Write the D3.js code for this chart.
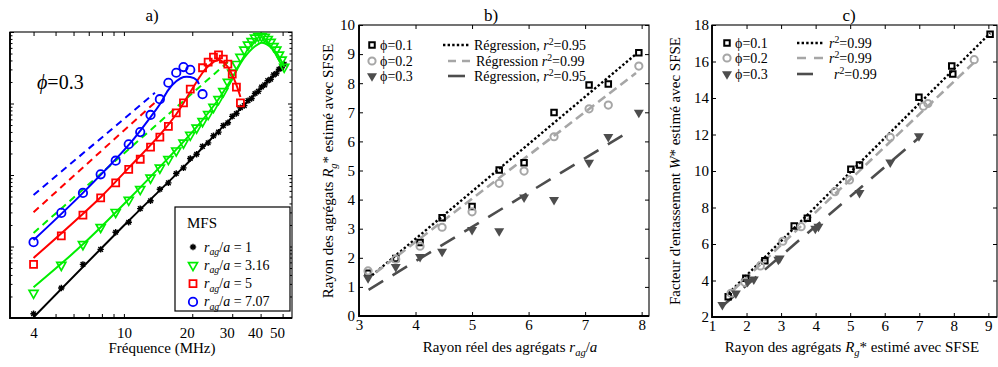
<!DOCTYPE html>
<html>
<head>
<meta charset="utf-8">
<script src="https://cdn.jsdelivr.net/npm/d3@7"></script>
</head>
<body style="margin:0;background:#fff">
<svg id="fig" width="998" height="367" style="font-family:'Liberation Serif'"></svg>
<script>
// ---------------- Panel a: spectra vs frequency (phi = 0.3), values in dB ----------------
const freqMHz = [4.0, 5.3, 6.6, 7.9, 9.2, 10.5, 11.8, 13.1, 14.4, 15.7, 17.0, 18.3, 19.6, 20.9, 22.2,
  23.5, 24.8, 26.1, 27.4, 28.7, 30.0, 31.3, 32.6, 33.9, 35.2, 36.5, 37.8, 39.1, 40.4, 41.7, 43.0,
  44.3, 45.6, 46.9, 48.2, 49.5, 50.8];
const bscRag1 = [-39.4, -35.8, -32.5, -30.4, -28.0, -26.6, -24.7, -23.6, -22.0, -21.1, -19.8, -19.0,
  -17.7, -17.1, -16.0, -15.5, -14.5, -14.0, -13.1, -12.7, -11.8, -11.4, -10.6, -10.3, -9.6, -9.3,
  -8.6, -8.3, -7.7, -7.4, -6.8, -6.6, -6.0, -5.8, -5.2, -5.0, -4.5];
const bscRag316 = [-36.5, -32.6, -29.7, -27.3, -25.2, -23.5, -22.0, -20.4, -19.0, -17.8, -16.6, -15.5,
  -14.4, -13.4, -12.5, -11.5, -10.5, -9.4, -8.3, -7.0, -5.7, -4.5, -3.5, -2.5, -1.8, -1.3, -0.8,
  -0.6, -0.6, -0.7, -1.0, -1.4, -2.0, -2.5, -3.2, -3.9, -4.9];
const freqRag5 = [4.0, 5.3, 6.6, 7.9, 9.2, 10.5, 11.8, 13.1, 14.4, 15.7, 17.0, 18.3, 19.6, 22.2, 23.5,
  24.8, 26.1, 27.4, 28.7, 30.0, 31.3, 32.6];
const bscRag5 = [-32.5, -28.5, -25.6, -23.2, -21.1, -19.2, -17.8, -16.1, -14.7, -13.2, -11.3, -9.9,
  -8.0, -5.0, -4.2, -3.5, -3.2, -3.8, -4.5, -5.9, -7.7, -9.9];
const freqRag707 = [4.0, 5.3, 6.6, 7.9, 9.2, 10.5, 11.8, 13.1, 14.4, 15.7, 17.0, 18.3, 19.6, 22.2];
const bscRag707 = [-29.4, -25.3, -22.5, -19.9, -18.0, -15.7, -14.0, -11.6, -9.4, -7.1, -5.7, -4.9,
  -5.3, -8.7];

// model curves (solid)
const modelFreq1 = [4, 10.5, 18.3, 30, 50.8];
const modelRag1 = [-39.9, -26.4, -18.9, -11.9, -4.6];
const modelFreq316 = [4, 6.6, 10.5, 15.7, 20.9, 26.1, 30, 33.9, 37.8, 40.4, 43, 46.9, 50.8];
const modelRag316 = [-35.7, -29.7, -23.4, -17.6, -13.3, -9.4, -6.4, -3.6, -2.0, -1.5, -1.8, -2.9, -4.9];
const modelFreq5 = [4, 7.9, 10.5, 14.4, 17, 19.6, 22.2, 23.5, 24.8, 26.1, 27.4, 28.7, 30, 31.3, 32.6];
const modelRag5 = [-31.6, -23.1, -19.0, -14.4, -11.5, -8.4, -5.7, -4.8, -4.2, -3.9, -4.2, -4.9, -6.0, -7.4, -9.1];
const modelFreq707 = [4, 6.6, 10.5, 13.1, 14.4, 15.7, 17, 18.3, 19.6, 20.9, 21.4];
const modelRag707 = [-29.1, -22.5, -15.8, -11.9, -10.1, -8.1, -6.9, -6.3, -6.3, -6.7, -7.3];

// low-frequency asymptotes (dashed)
const asymFreq316 = [4, 28.7];
const asymRag316 = [-28.1, -4.2];
const asymFreq5 = [4, 14.1];
const asymRag5 = [-25.2, -9.5];
const asymFreq707 = [4, 13.7];
const asymRag707 = [-22.8, -8.5];

const freqTicks = [4, 5, 6, 7, 8, 9, 10, 20, 30, 40, 50];
const freqTickLabels = [4, 10, 20, 30, 40, 50];
const dbDecades = [-40, -30, -20, -10, 0];

// ---------------- Panel b: estimated vs true aggregate radius ----------------
const ragTrue = [3.16, 3.65, 4.08, 4.47, 5.00, 5.48, 5.92, 6.45, 7.07, 7.41, 7.95];
const rgPhi01 = [1.47, 1.98, 2.53, 3.38, 3.76, 5.02, 5.27, 6.99, 7.94, 7.97, 9.05];
const rgPhi02 = [1.55, 1.95, 2.40, 3.05, 3.58, 4.56, 4.98, 6.16, 7.12, 7.25, 8.59];
const rgPhi03 = [1.30, 1.69, 2.03, 2.21, 2.96, 2.92, 4.08, 3.99, 5.27, 6.16, 6.99];
const regB01x = [3.17, 7.9], regB01y = [1.3, 9.0];
const regB02x = [3.3, 7.9], regB02y = [1.5, 8.35];
const regB03x = [3.17, 7.7], regB03y = [0.9, 6.25];
const bTicksX = [3, 4, 5, 6, 7, 8];
const bTicksY = [0, 1, 2, 3, 4, 5, 6, 7, 8, 9, 10];

// ---------------- Panel c: packing factor vs estimated radius ----------------
const wPhi01 = [3.11, 4.12, 5.08, 6.99, 7.41, 10.09, 10.33, 14.04, 15.75, 15.32, 17.5];
const wPhi02 = [3.30, 3.90, 4.80, 6.15, 6.95, 8.87, 9.51, 11.85, 13.55, 13.70, 16.10];
const wPhi03 = [2.66, 3.30, 3.93, 4.07, 5.22, 5.15, 6.95, 6.85, 8.81, 10.48, 11.92];
const regC01x = [1.48, 9.05], regC01y = [3.3, 17.55];
const regC02x = [1.62, 8.61], regC02y = [3.48, 15.99];
const regC03x = [1.3, 6.97], regC03y = [2.6, 11.79];
const cTicksX = [1, 2, 3, 4, 5, 6, 7, 8, 9];
const cTicksY = [2, 4, 6, 8, 10, 12, 14, 16, 18];

// ---------------- helpers ----------------
const SERIF = "'Liberation Serif'";
const svg = d3.select('#fig');

function rich(g, x, y, parts, size, opts = {}) {
  const t = g.append('text').attr('font-size', size)
    .attr('font-family', 'Liberation Serif').style('font-family', SERIF)
    .attr('text-anchor', opts.anchor || 'start').attr('fill', '#000');
  if (opts.rotate) t.attr('transform', `translate(${x},${y}) rotate(-90)`);
  else t.attr('x', x).attr('y', y);
  let shift = 0;
  parts.forEach(p => {
    const target = p.sub ? size * 0.25 : p.sup ? -size * 0.33 : 0;
    const s = t.append('tspan').text(p.t).attr('dy', (target - shift).toFixed(2));
    if (p.sub || p.sup) s.attr('font-size', size * 0.7);
    if (p.i) s.attr('font-style', 'italic');
    shift = target;
  });
  return t;
}

function plain(g, x, y, str, size, anchor) {
  return g.append('text').attr('x', x).attr('y', y).attr('font-size', size)
    .attr('font-family', 'Liberation Serif').style('font-family', SERIF)
    .attr('text-anchor', anchor || 'start').text(str);
}

const shape = {
  square: s => `M${-s / 2},${-s / 2}h${s}v${s}h${-s}Z`,
  circle: r => `M${r},0A${r},${r} 0 1,1 ${-r},0A${r},${r} 0 1,1 ${r},0Z`,
  triDown: (w, h) => `M${-w / 2},${-h / 3}L${w / 2},${-h / 3}L0,${2 * h / 3}Z`,
  star: s => `M${-s},0H${s}M0,${-s}V${s}M${-s * 0.72},${-s * 0.72}L${s * 0.72},${s * 0.72}M${-s * 0.72},${s * 0.72}L${s * 0.72},${-s * 0.72}`
};

function markers(g, x, y, xs, ys, d, style) {
  g.append('g').selectAll('path').data(d3.zip(xs, ys)).join('path')
    .attr('transform', p => `translate(${x(p[0])},${y(p[1])})`)
    .attr('d', d)
    .attr('fill', style.fill || 'none')
    .attr('stroke', style.stroke || 'none')
    .attr('stroke-width', style.sw || 0);
}

function curve(g, x, y, xs, ys, style, smooth) {
  const line = d3.line().x(p => x(p[0])).y(p => y(p[1]));
  if (smooth) line.curve(d3.curveCatmullRom.alpha(0.5));
  g.append('path').datum(d3.zip(xs, ys)).attr('d', line)
    .attr('fill', 'none').attr('stroke', style.stroke)
    .attr('stroke-width', style.sw).attr('stroke-dasharray', style.dash || null)
    .attr('stroke-linecap', 'butt');
}

function styleAxis(sel, fs) {
  sel.call(s => s.select('.domain').remove())
    .attr('font-family', 'Liberation Serif').attr('font-size', fs)
    .call(s => s.selectAll('line').attr('stroke', '#000').attr('stroke-width', 1))
    .call(s => s.selectAll('text').attr('fill', '#000').style('font-family', SERIF));
}

function frame(g, x, y, o) {
  const [xl, xr] = x.range(), [yb, yt] = y.range();
  const bottom = g.append('g').attr('transform', `translate(0,${yb})`)
    .call(d3.axisBottom(x).tickValues(o.xt).tickSize(-o.len).tickPadding(o.xpad).tickFormat(o.xf))
    .call(s => styleAxis(s, o.fs));
  g.append('g').attr('transform', `translate(0,${yt})`)
    .call(d3.axisTop(x).tickValues(o.xt).tickSize(-o.len).tickFormat(''))
    .call(s => styleAxis(s, o.fs));
  g.append('g').attr('transform', `translate(${xl},0)`)
    .call(d3.axisLeft(y).tickValues(o.yt).tickSize(-o.len).tickPadding(o.ypad).tickFormat(o.yf))
    .call(s => styleAxis(s, o.fs));
  g.append('g').attr('transform', `translate(${xr},0)`)
    .call(d3.axisRight(y).tickValues(o.yt).tickSize(-o.len).tickFormat(''))
    .call(s => styleAxis(s, o.fs));
  g.append('rect').attr('x', xl).attr('y', yt).attr('width', xr - xl).attr('height', yb - yt)
    .attr('fill', 'none').attr('stroke', '#000').attr('stroke-width', 1.1);
  g.append('path').attr('d', `M${xl},${yt}V${yb}H${xr}`)
    .attr('fill', 'none').attr('stroke', '#000').attr('stroke-width', 1.8);
  return bottom;
}

// ================= Panel a =================
{
  const g = svg.append('g');
  const x = d3.scaleLog().domain([3.15, 55]).range([10, 292]);
  const y = d3.scaleLinear().domain([-40, 0]).range([318, 32]);

  const minorDb = [];
  dbDecades.slice(0, -1).forEach(d => { for (let k = 2; k <= 9; k++) minorDb.push(d + 10 * Math.log10(k)); });

  const bottom = frame(g, x, y, {
    xt: freqTicks, yt: dbDecades, len: 4, xpad: 9, ypad: 4, fs: 15,
    xf: d => freqTickLabels.includes(d) ? String(d) : '', yf: () => ''
  });
  bottom.selectAll('.tick text')
    .attr('text-anchor', d => d >= 20 ? 'end' : 'middle')
    .attr('dx', d => d >= 20 ? 2 : 0);
  g.append('g').attr('transform', 'translate(10,0)')
    .call(d3.axisLeft(y).tickValues(minorDb).tickSize(-2.5).tickFormat(''))
    .call(s => styleAxis(s, 15));
  g.append('g').attr('transform', 'translate(292,0)')
    .call(d3.axisRight(y).tickValues(minorDb).tickSize(-2.5).tickFormat(''))
    .call(s => styleAxis(s, 15));

  // dashed asymptotes
  curve(g, x, y, asymFreq707, asymRag707, { stroke: '#0000ff', sw: 2, dash: '7,5' });
  curve(g, x, y, asymFreq5, asymRag5, { stroke: '#ff0000', sw: 2, dash: '7,5' });
  curve(g, x, y, asymFreq316, asymRag316, { stroke: '#00ee00', sw: 2, dash: '7,5' });

  // r_ag/a = 1
  curve(g, x, y, modelFreq1, modelRag1, { stroke: '#000', sw: 2 }, true);
  markers(g, x, y, freqMHz, bscRag1, shape.star(3.2), { stroke: '#000', sw: 1.4 });
  // r_ag/a = 3.16
  curve(g, x, y, modelFreq316, modelRag316, { stroke: '#00ee00', sw: 2 }, true);
  markers(g, x, y, freqMHz, bscRag316, shape.triDown(9, 8), { stroke: '#00ee00', sw: 1.7 });
  // r_ag/a = 5
  curve(g, x, y, modelFreq5, modelRag5, { stroke: '#ff0000', sw: 2 }, true);
  markers(g, x, y, freqRag5, bscRag5, shape.square(7), { stroke: '#ff0000', sw: 1.8 });
  // r_ag/a = 7.07
  curve(g, x, y, modelFreq707, modelRag707, { stroke: '#0000ff', sw: 2 }, true);
  markers(g, x, y, freqRag707, bscRag707, shape.circle(4.2), { stroke: '#0000ff', sw: 1.8 });

  rich(g, 37, 89, [{ t: 'ϕ', i: 1 }, { t: '=0.3' }], 20);

  // legend
  const lg = g.append('g');
  lg.append('rect').attr('x', 175).attr('y', 207).attr('width', 115).attr('height', 104)
    .attr('fill', '#fff').attr('stroke', '#000').attr('stroke-width', 1.2);
  plain(lg, 187, 228, 'MFS', 15);
  const rows = [
    { v: '1', d: shape.star(3.2), st: { stroke: '#000', sw: 1.4 } },
    { v: '3.16', d: shape.triDown(9, 8), st: { stroke: '#00ee00', sw: 1.7 } },
    { v: '5', d: shape.square(7), st: { stroke: '#ff0000', sw: 1.8 } },
    { v: '7.07', d: shape.circle(4.2), st: { stroke: '#0000ff', sw: 1.8 } }
  ];
  rows.forEach((r, i) => {
    const cy = 247 + i * 18.3;
    lg.append('path').attr('transform', `translate(193,${cy})`).attr('d', r.d)
      .attr('fill', 'none').attr('stroke', r.st.stroke).attr('stroke-width', r.st.sw);
    rich(lg, 204, cy + 4.5, [{ t: 'r', i: 1 }, { t: 'ag', i: 1, sub: 1 }, { t: '/' }, { t: 'a', i: 1 }, { t: ' = ' + r.v }], 14);
  });

  plain(g, 152, 21, 'a)', 17, 'middle');
  plain(g, 162, 353, 'Fréquence (MHz)', 15, 'middle');
}

// ================= Panel b =================
{
  const g = svg.append('g');
  const x = d3.scaleLinear().domain([3, 8.13]).range([359, 649]);
  const y = d3.scaleLinear().domain([0, 10]).range([316, 25]);
  frame(g, x, y, { xt: bTicksX, yt: bTicksY, len: 4, xpad: 3, ypad: 4, fs: 15, xf: d3.format('d'), yf: d3.format('d') });

  curve(g, x, y, regB01x, regB01y, { stroke: '#000', sw: 2.4, dash: '2.4,2.2' });
  curve(g, x, y, regB02x, regB02y, { stroke: '#a6a6a6', sw: 2.6, dash: '9,5' });
  curve(g, x, y, regB03x, regB03y, { stroke: '#4d4d4d', sw: 2.6, dash: '17,11' });

  markers(g, x, y, ragTrue, rgPhi01, shape.square(5.5), { stroke: '#000', sw: 2 });
  markers(g, x, y, ragTrue, rgPhi02, shape.circle(3.6), { stroke: '#a6a6a6', sw: 2 });
  markers(g, x, y, ragTrue, rgPhi03, shape.triDown(10, 8.5), { fill: '#4d4d4d' });

  // legend
  const rowsY = [45, 61, 76];
  g.append('path').attr('transform', `translate(372,${rowsY[0]})`).attr('d', shape.square(5.5)).attr('fill', 'none').attr('stroke', '#000').attr('stroke-width', 2);
  g.append('path').attr('transform', `translate(372,${rowsY[1]})`).attr('d', shape.circle(3.6)).attr('fill', 'none').attr('stroke', '#a6a6a6').attr('stroke-width', 2);
  g.append('path').attr('transform', `translate(372,${rowsY[2]})`).attr('d', shape.triDown(10, 8.5)).attr('fill', '#4d4d4d');
  ['0.1', '0.2', '0.3'].forEach((v, i) => rich(g, 380, rowsY[i] + 4.5, [{ t: 'ϕ' }, { t: '=' + v }], 14));
  g.append('line').attr('x1', 443).attr('x2', 470).attr('y1', rowsY[0]).attr('y2', rowsY[0]).attr('stroke', '#000').attr('stroke-width', 2.4).attr('stroke-dasharray', '2.4,2.2');
  g.append('line').attr('x1', 448).attr('x2', 470).attr('y1', rowsY[1]).attr('y2', rowsY[1]).attr('stroke', '#a6a6a6').attr('stroke-width', 2.6).attr('stroke-dasharray', '8,6');
  g.append('line').attr('x1', 448).attr('x2', 465).attr('y1', rowsY[2]).attr('y2', rowsY[2]).attr('stroke', '#4d4d4d').attr('stroke-width', 2.6);
  rich(g, 474, rowsY[0] + 4.5, [{ t: 'Régression, ' }, { t: 'r', i: 1 }, { t: '2', sup: 1 }, { t: '=0.95' }], 14);
  rich(g, 476, rowsY[1] + 4.5, [{ t: 'Régression ' }, { t: 'r', i: 1 }, { t: '2', sup: 1 }, { t: '=0.99' }], 14);
  rich(g, 474, rowsY[2] + 4.5, [{ t: 'Régression, ' }, { t: 'r', i: 1 }, { t: '2', sup: 1 }, { t: '=0.95' }], 14);

  plain(g, 491, 21, 'b)', 17, 'middle');
  rich(g, 510, 352, [{ t: 'Rayon réel des agrégats ' }, { t: 'r', i: 1 }, { t: 'ag', i: 1, sub: 1 }, { t: '/' }, { t: 'a', i: 1 }], 15, { anchor: 'middle' });
  rich(g, 333, 171, [{ t: 'Rayon des agrégats ' }, { t: 'R', i: 1 }, { t: 'g', i: 1, sub: 1 }, { t: '*' }, { t: ' estimé avec SFSE' }], 15, { anchor: 'middle', rotate: 1 });
}

// ================= Panel c =================
{
  const g = svg.append('g');
  const x = d3.scaleLinear().domain([1, 9.25]).range([712, 997]);
  const y = d3.scaleLinear().domain([2, 18]).range([317, 25]);
  frame(g, x, y, { xt: cTicksX, yt: cTicksY, len: 4, xpad: 3, ypad: 3, fs: 15, xf: d3.format('d'), yf: d3.format('d') });

  curve(g, x, y, regC01x, regC01y, { stroke: '#000', sw: 2.4, dash: '2.4,2.2' });
  curve(g, x, y, regC02x, regC02y, { stroke: '#a6a6a6', sw: 2.6, dash: '9,5' });
  curve(g, x, y, regC03x, regC03y, { stroke: '#4d4d4d', sw: 2.6, dash: '17,11' });

  markers(g, x, y, rgPhi01, wPhi01, shape.square(5.5), { stroke: '#000', sw: 2 });
  markers(g, x, y, rgPhi02, wPhi02, shape.circle(3.6), { stroke: '#a6a6a6', sw: 2 });
  markers(g, x, y, rgPhi03, wPhi03, shape.triDown(10, 8.5), { fill: '#4d4d4d' });

  const rowsY = [43, 58, 74];
  g.append('path').attr('transform', `translate(727,${rowsY[0]})`).attr('d', shape.square(5.5)).attr('fill', 'none').attr('stroke', '#000').attr('stroke-width', 2);
  g.append('path').attr('transform', `translate(727,${rowsY[1]})`).attr('d', shape.circle(3.6)).attr('fill', 'none').attr('stroke', '#a6a6a6').attr('stroke-width', 2);
  g.append('path').attr('transform', `translate(727,${rowsY[2]})`).attr('d', shape.triDown(10, 8.5)).attr('fill', '#4d4d4d');
  ['0.1', '0.2', '0.3'].forEach((v, i) => rich(g, 735, rowsY[i] + 4.5, [{ t: 'ϕ' }, { t: '=' + v }], 14));
  g.append('line').attr('x1', 797).attr('x2', 823).attr('y1', rowsY[0]).attr('y2', rowsY[0]).attr('stroke', '#000').attr('stroke-width', 2.4).attr('stroke-dasharray', '2.4,2.2');
  g.append('line').attr('x1', 797).attr('x2', 823).attr('y1', rowsY[1]).attr('y2', rowsY[1]).attr('stroke', '#a6a6a6').attr('stroke-width', 2.6).attr('stroke-dasharray', '9,8');
  g.append('line').attr('x1', 797).attr('x2', 813).attr('y1', rowsY[2]).attr('y2', rowsY[2]).attr('stroke', '#4d4d4d').attr('stroke-width', 2.6);
  rich(g, 829, rowsY[0] + 4.5, [{ t: 'r', i: 1 }, { t: '2', sup: 1 }, { t: '=0.99' }], 14);
  rich(g, 829, rowsY[1] + 4.5, [{ t: 'r', i: 1 }, { t: '2', sup: 1 }, { t: '=0.99' }], 14);
  rich(g, 834, rowsY[2] + 4.5, [{ t: 'r', i: 1 }, { t: '2', sup: 1 }, { t: '=0.99' }], 14);

  plain(g, 849, 21, 'c)', 17, 'middle');
  rich(g, 852, 352, [{ t: 'Rayon des agrégats ' }, { t: 'R', i: 1 }, { t: 'g', i: 1, sub: 1 }, { t: '*' }, { t: ' estimé avec SFSE' }], 15, { anchor: 'middle' });
  rich(g, 680, 171, [{ t: "Facteur d'entassement " }, { t: 'W', i: 1 }, { t: '*' }, { t: ' estimé avec SFSE' }], 15, { anchor: 'middle', rotate: 1 });
}
</script>
</body>
</html>
